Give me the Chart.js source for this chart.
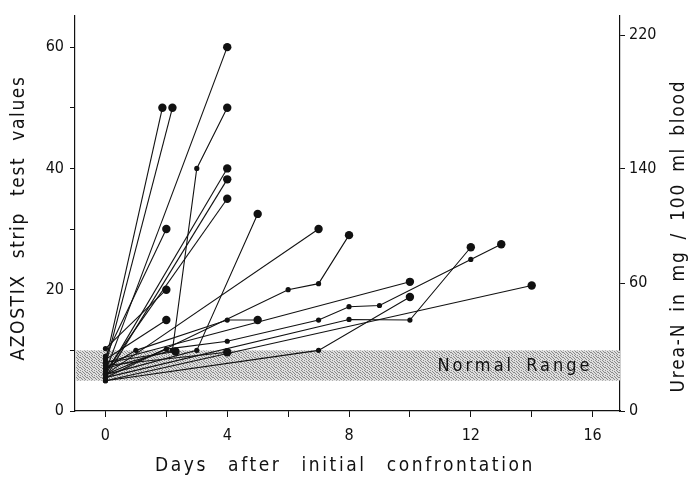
<!DOCTYPE html>
<html>
<head>
<meta charset="utf-8">
<script src="https://cdn.jsdelivr.net/npm/chart.js@4.4.1/dist/chart.umd.min.js"></script>
<style>
  html, body { margin: 0; padding: 0; background: #fff; }
  #wrap { width: 690px; height: 477px; }
</style>
</head>
<body>
<div id="wrap"><canvas id="grafico"></canvas></div>
<script>
// days after confrontation, one list per patient
const days = [
    [0, 1.87],
    [0, 2.2],
    [0, 4],
    [0, 2.2, 3, 4],
    [0, 4],
    [0, 4],
    [0, 4],
    [0, 2],
    [0, 2],
    [0, 2],
    [0, 3, 5],
    [0, 7],
    [0, 6, 7, 8],
    [0, 1, 4, 5],
    [0, 10],
    [0, 2, 4, 7, 8, 9, 12, 13],
    [0, 7, 10],
    [0, 8, 10, 12],
    [0, 14],
    [0, 4],
    [0, 2.3]
];
// AZOSTIX strip values for the same patients
const azostix = [
    [8, 50],
    [7.5, 50],
    [6.5, 60],
    [7, 10, 40, 50],
    [6, 40],
    [5.5, 38.2],
    [6.5, 35],
    [9, 30],
    [10.3, 20],
    [8.5, 15],
    [6, 10, 32.5],
    [6, 30],
    [5.5, 20, 21, 29],
    [7, 10, 15, 15],
    [8, 21.3],
    [6, 10.2, 11.5, 15, 17.2, 17.4, 25, 27.5],
    [5, 10, 18.8],
    [5.5, 15.1, 15, 27],
    [5, 20.7],
    [7.5, 9.7],
    [8, 9.8]
];

const xTicks = [0, 2, 4, 6, 8, 10, 12, 14, 16];
const yTicks = [0, 10, 20, 30, 40, 50, 60];
const rightTickPos = [0, 21.1, 40, 62];
const rightTickLabels = ['0', '60', '140', '220'];
const normalRange = [5, 10];

const FONT = "'DejaVu Sans Condensed', 'DejaVu Sans', sans-serif";

// draws text centred at x with fixed letter spacing, word gaps stretched to fill the width
function textSpaced(ctx, txt, x, y, targetWidth, letter) {
    ctx.letterSpacing = letter + 'px';
    ctx.wordSpacing = '0px';
    const w0 = ctx.measureText(txt).width;
    const gaps = txt.split(' ').length - 1;
    ctx.wordSpacing = Math.max(0, (targetWidth - w0) / gaps) + 'px';
    ctx.textAlign = 'left';
    ctx.fillText(txt, x - targetWidth / 2, y);
    ctx.letterSpacing = '0px';
    ctx.wordSpacing = '0px';
}

const desenho = {
    id: 'desenho',
    beforeDatasetsDraw(chart) {
        const { ctx, chartArea, scales } = chart;
        const yTop = scales.y.getPixelForValue(normalRange[1]);
        const yBot = scales.y.getPixelForValue(normalRange[0]);
        // stippled grey like the printed screen tone
        const pc = document.createElement('canvas');
        pc.width = 7; pc.height = 5;
        const p = pc.getContext('2d');
        p.fillStyle = '#dedede'; p.fillRect(0, 0, 7, 5);
        p.fillStyle = '#8a8a8a';
        [[0, 0], [3, 0], [5, 1], [1, 1], [2, 2], [6, 2], [4, 3], [0, 3], [1, 4], [5, 4], [3, 2]]
            .forEach(([a, b]) => p.fillRect(a, b, 1, 1));
        ctx.save();
        ctx.fillStyle = ctx.createPattern(pc, 'repeat');
        ctx.fillRect(chartArea.left + 1, yTop, chartArea.right - chartArea.left - 1, yBot - yTop);
        ctx.restore();
    },
    afterDraw(chart) {
        const { ctx, scales } = chart;
        ctx.save();
        ctx.fillStyle = '#111';
        ctx.textBaseline = 'middle';

        ctx.font = '18px ' + FONT;
        const yMid = (scales.y.getPixelForValue(normalRange[0]) + scales.y.getPixelForValue(normalRange[1])) / 2;
        textSpaced(ctx, 'Normal Range', 515, yMid + 1, 155, 3);

        ctx.font = '19px ' + FONT;
        textSpaced(ctx, 'Days after initial confrontation', 345, 466, 380, 2.6);

        ctx.translate(19, 218);
        ctx.rotate(-Math.PI / 2);
        textSpaced(ctx, 'AZOSTIX strip test values', 0, 0, 285, 1.6);
        ctx.restore();

        ctx.save();
        ctx.fillStyle = '#111';
        ctx.textBaseline = 'middle';
        ctx.font = '19px ' + FONT;
        ctx.translate(679, 236);
        ctx.rotate(-Math.PI / 2);
        textSpaced(ctx, 'Urea-N in mg / 100 ml blood', 0, 0, 313, 1.8);
        ctx.restore();
    }
};

const datasets = days.map((xs, i) => {
    const ys = azostix[i];
    return {
        data: xs.map((d, j) => ({ x: d, y: ys[j] })),
        showLine: true,
        borderColor: '#111',
        borderWidth: 1.1,
        backgroundColor: '#111',
        pointBorderWidth: 0,
        pointRadius: xs.map((d, j) => (j === xs.length - 1 ? 4.2 : 2.6)),
        pointHoverRadius: 0
    };
});

const ctx = document.getElementById('grafico').getContext('2d');
new Chart(ctx, {
    type: 'scatter',
    data: { datasets },
    options: {
        responsive: true,
        maintainAspectRatio: false,
        animation: false,
        layout: { padding: { top: 13, left: 0, right: 0, bottom: 0 } },
        plugins: { legend: { display: false }, tooltip: { enabled: false } },
        scales: {
            x: {
                type: 'linear',
                min: -1,
                max: 16.9,
                afterBuildTicks: s => { s.ticks = xTicks.map(v => ({ value: v })); },
                afterFit: s => { s.height = 66; },
                grid: { drawOnChartArea: false, color: '#111', tickLength: 6 },
                border: { color: '#111', width: 1.2 },
                ticks: {
                    color: '#111',
                    font: { family: FONT, size: 16 },
                    padding: 9,
                    autoSkip: false,
                    maxRotation: 0,
                    callback: v => (v % 4 === 0 ? String(v) : '')
                }
            },
            y: {
                position: 'left',
                min: 0,
                max: 65.2,
                afterBuildTicks: s => { s.ticks = yTicks.map(v => ({ value: v })); },
                afterFit: s => { s.width = 75; },
                grid: { drawOnChartArea: false, color: '#111', tickLength: 5 },
                border: { color: '#111', width: 1.2 },
                ticks: {
                    color: '#111',
                    font: { family: FONT, size: 16 },
                    padding: 6,
                    callback: v => (v % 20 === 0 ? String(v) : '')
                }
            },
            y2: {
                position: 'right',
                min: 0,
                max: 65.2,
                afterBuildTicks: s => { s.ticks = rightTickPos.map(v => ({ value: v })); },
                afterFit: s => { s.width = 70; },
                grid: { drawOnChartArea: false, color: '#111', tickLength: 5 },
                border: { color: '#111', width: 1.2 },
                ticks: {
                    color: '#111',
                    font: { family: FONT, size: 16 },
                    padding: 4,
                    callback: (v, i) => rightTickLabels[i]
                }
            }
        }
    },
    plugins: [desenho]
});
</script>
</body>
</html>
